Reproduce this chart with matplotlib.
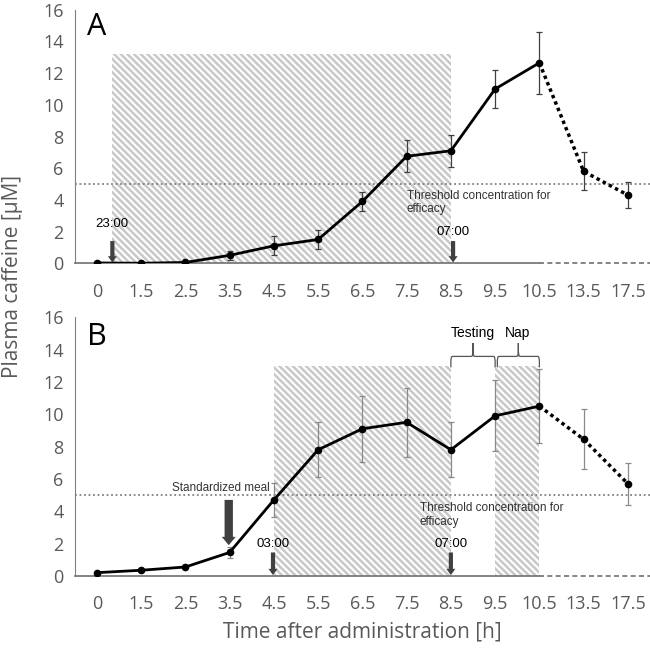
import numpy as np
import matplotlib
matplotlib.use('Agg')
import matplotlib.pyplot as plt
from matplotlib.patches import Rectangle, PathPatch, FancyArrowPatch
from matplotlib.path import Path

plt.rcParams['hatch.linewidth'] = 1.8

time_labels = ['0', '1.5', '2.5', '3.5', '4.5', '5.5', '6.5', '7.5', '8.5', '9.5', '10.5', '13.5', '17.5']

conc_a = [0.02, 0.0, 0.05, 0.5, 1.1, 1.5, 3.9, 6.75, 7.1, 11.0, 12.65, 5.8, 4.3]
err_a = [0.03, 0.03, 0.05, 0.3, 0.6, 0.6, 0.6, 1.0, 1.0, 1.2, 1.95, 1.2, 0.8]

conc_b = [0.2, 0.35, 0.55, 1.45, 4.7, 7.8, 9.1, 9.5, 7.8, 9.9, 10.5, 8.45, 5.7]
err_b = [0.05, 0.05, 0.08, 0.35, 1.05, 1.7, 2.05, 2.15, 1.7, 2.2, 2.3, 1.85, 1.3]

threshold = 5
grey = '#595959'
hatch_grey = '#c8c8c8'
ann_font = 'Liberation Sans'


def draw_brace(ax, x0, x1, y, h):
    xm = (x0 + x1) / 2
    q = (x1 - x0) * 0.06
    ym = y + h * 0.45
    verts = [(x0, y), (x0, ym), (x0, ym), (x0 + q, ym),
             (xm - q, ym), (xm, ym), (xm, ym), (xm, y + h),
             (xm, ym), (xm, ym), (xm + q, ym),
             (x1 - q, ym), (x1, ym), (x1, ym), (x1, y)]
    codes = [Path.MOVETO, Path.CURVE4, Path.CURVE4, Path.CURVE4,
             Path.LINETO, Path.CURVE4, Path.CURVE4, Path.CURVE4,
             Path.CURVE4, Path.CURVE4, Path.CURVE4,
             Path.LINETO, Path.CURVE4, Path.CURVE4, Path.CURVE4]
    ax.add_patch(PathPatch(Path(verts, codes), fill=False, edgecolor='#555555', lw=0.9, clip_on=False))


def arrow(ax, x, y_start, y_end, tail=3.0, head_w=6.5, head_l=4.5):
    style = 'simple,tail_width=%s,head_width=%s,head_length=%s' % (tail, head_w, head_l)
    ax.add_patch(FancyArrowPatch((x, y_start), (x, y_end), arrowstyle=style, mutation_scale=1,
                                 color='#404040', lw=0, shrinkA=0, shrinkB=0, zorder=4))


def hatched(ax, x0, x1, top):
    ax.add_patch(Rectangle((x0, 0), x1 - x0, top, facecolor='white', edgecolor=hatch_grey,
                           hatch='\\\\\\\\\\', lw=0, zorder=0))


def setup_axis(ax, conc, err, ecolor):
    x = np.arange(len(time_labels))
    ax.set_xlim(-0.5, 12.5)
    ax.set_ylim(0, 16)
    ax.set_yticks(np.arange(0, 17, 2))
    ax.set_xticks(x)
    ax.set_xticklabels(time_labels)
    ax.tick_params(length=0, labelsize=13, labelcolor=grey, pad=14)
    ax.tick_params(axis='y', pad=8)
    for lab in ax.get_xticklabels() + ax.get_yticklabels():
        lab.set_fontfamily('Open Sans')
    for s in ['top', 'right', 'bottom']:
        ax.spines[s].set_visible(False)
    ax.spines['left'].set_color('#808080')

    # x axis line: solid up to 10.5, dashed beyond
    ax.plot([-0.5, 10], [0, 0], color='#707070', lw=1.2, clip_on=False, zorder=3)
    ax.plot([10, 12.5], [0, 0], color='#707070', lw=1.2, ls=(0, (3, 2)), clip_on=False, zorder=3)

    ax.axhline(threshold, color='#808080', lw=1.3, ls=(0, (1, 1.5)), zorder=1)

    ax.errorbar(x, conc, yerr=err, fmt='none', ecolor=ecolor, elinewidth=0.9, capsize=2.5, capthick=0.9, zorder=4)
    ax.plot(x[:11], conc[:11], color='black', lw=2, zorder=5)
    ax.plot(x[10:], conc[10:], color='black', lw=2.5, ls=(0, (1, 1)), zorder=5)
    ax.plot(x, conc, 'o', color='black', ms=4.5, zorder=6)


fig = plt.figure(figsize=(6.5, 6.5), dpi=100)
ax_a = fig.add_axes([0.115, 0.595, 0.885, 0.39])
ax_b = fig.add_axes([0.115, 0.114, 0.885, 0.398])

# Panel A
setup_axis(ax_a, conc_a, err_a, '#404040')
hatched(ax_a, 0.35, 8.0, 13.2)
ax_a.text(-0.22, 14.9, 'A', fontsize=22, fontfamily='Open Sans', ha='left', va='center')
ax_a.text(7.0, 4.65, 'Threshold concentration for\nefficacy', fontsize=8.5, fontfamily=ann_font,
          color='#333333', ha='left', va='top', linespacing=1.2)
ax_a.text(0.35, 2.45, '23:00', fontsize=9.5, fontfamily=ann_font, ha='center', va='center')
arrow(ax_a, 0.35, 1.4, 0.05)
ax_a.text(8.05, 1.95, '07:00', fontsize=9.5, fontfamily=ann_font, ha='center', va='center')
arrow(ax_a, 8.05, 1.4, 0.05)

# Panel B
setup_axis(ax_b, conc_b, err_b, '#8a8a8a')
hatched(ax_b, 4.0, 8.0, 13.0)
hatched(ax_b, 9.0, 10.0, 13.0)
ax_b.text(-0.22, 14.8, 'B', fontsize=22, fontfamily='Open Sans', ha='left', va='center')
ax_b.text(7.3, 4.55, 'Threshold concentration for\nefficacy', fontsize=8.5, fontfamily=ann_font,
          color='#333333', ha='left', va='top', linespacing=1.2)
ax_b.text(2.8, 5.45, 'Standardized meal', fontsize=8.5, fontfamily=ann_font, color='#333333', ha='center', va='center')
arrow(ax_b, 2.98, 4.7, 1.9, tail=6, head_w=10, head_l=6)
ax_b.text(3.98, 2.0, '03:00', fontsize=9.5, fontfamily=ann_font, ha='center', va='center')
arrow(ax_b, 3.98, 1.45, 0.05)
ax_b.text(8.0, 2.0, '07:00', fontsize=9.5, fontfamily=ann_font, ha='center', va='center')
arrow(ax_b, 8.0, 1.45, 0.05)

draw_brace(ax_b, 8.0, 9.0, 12.9, 1.5)
draw_brace(ax_b, 9.05, 10.0, 12.9, 1.5)
ax_b.text(8.5, 15.0, 'Testing', fontsize=10, fontfamily=ann_font, ha='center', va='center')
ax_b.text(9.5, 15.0, 'Nap', fontsize=10, fontfamily=ann_font, ha='center', va='center')

ax_b.set_xlabel('Time after administration [h]', fontsize=15, fontfamily='Open Sans', color=grey, labelpad=6)
fig.text(0.02, 0.574, 'Plasma caffeine [\u00b5M]', rotation=90, fontsize=15, fontfamily='Open Sans',
         color=grey, ha='center', va='center')

fig.savefig('out.png', dpi=100)
